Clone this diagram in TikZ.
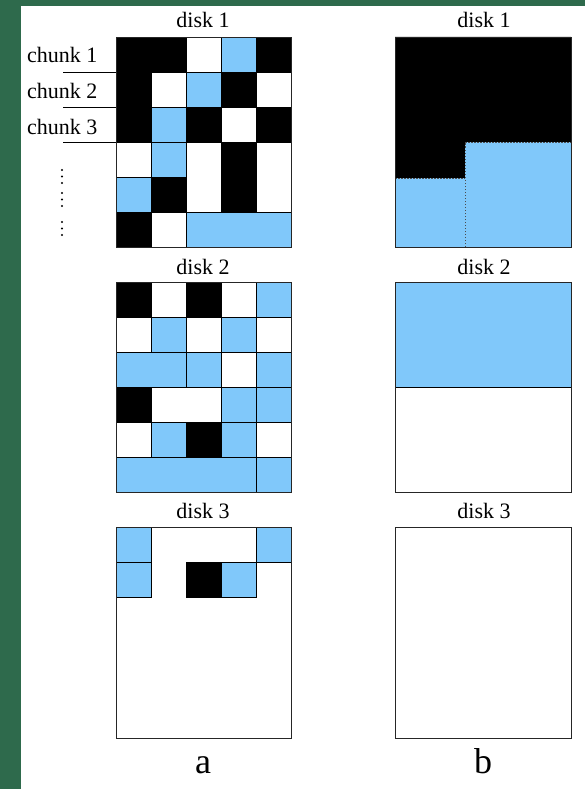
\documentclass[tikz,border=0pt]{standalone}
\usepackage{fontspec}
\setmainfont{Liberation Serif}
\definecolor{cblue}{RGB}{128,200,250}
\definecolor{bggreen}{RGB}{46,106,76}
\tikzset{
  cellline/.style={draw=black, line width=0.8pt},
  boxline/.style={draw=black!85, line width=0.9pt},
  lbl/.style={font=\fontsize{22}{24}\selectfont, inner sep=0pt, anchor=base},
  chunklbl/.style={font=\fontsize{22}{24}\selectfont, inner sep=0pt, anchor=base west},
  biglbl/.style={font=\fontsize{36}{38}\selectfont, inner sep=0pt, anchor=base},
  dotmark/.style={fill=black, draw=none}
}
\newcommand{\gx}{116}
\newcommand{\gyy}{37}
\newcommand{\cb}[5]{\path[cellline, fill=#5] ({\gx+35*(#1-1)},{\gyy+35*(#2-1)}) rectangle ({\gx+35*#3},{\gyy+35*#4});}
\begin{document}
\begin{tikzpicture}[x=1pt,y=-1pt]
\useasboundingbox (0,0) rectangle (585,789);
% background
\fill[bggreen] (0,0) rectangle (585,789);
\fill[white] (21,6) rectangle (585,789);

% ---------- column a, disk 1 ----------
\node[lbl] (a1t) at (203,28) {disk 1};
\renewcommand{\gyy}{37}
\cb{1}{1}{2}{1}{black}
\cb{1}{1}{1}{3}{black}
\cb{3}{1}{3}{1}{white}
\cb{4}{1}{4}{1}{cblue}
\cb{5}{1}{5}{1}{black}
\cb{2}{2}{2}{2}{white}
\cb{3}{2}{3}{2}{cblue}
\cb{4}{2}{4}{2}{black}
\cb{5}{2}{5}{2}{white}
\cb{2}{3}{2}{3}{cblue}
\cb{3}{3}{3}{3}{black}
\cb{4}{3}{4}{3}{white}
\cb{5}{3}{5}{3}{black}
\cb{1}{4}{1}{4}{white}
\cb{2}{4}{2}{4}{cblue}
\cb{3}{4}{3}{5}{white}
\cb{4}{4}{4}{5}{black}
\cb{5}{4}{5}{5}{white}
\cb{1}{5}{1}{5}{cblue}
\cb{2}{5}{2}{5}{black}
\cb{1}{6}{1}{6}{black}
\cb{2}{6}{2}{6}{white}
\cb{3}{6}{5}{6}{cblue}
\draw[boxline] (116,37) rectangle (291,247);

% chunk labels
\node[chunklbl] (c1) at (27,63) {chunk 1};
\node[chunklbl] (c2) at (27,99) {chunk 2};
\node[chunklbl] (c3) at (27,134) {chunk 3};
\coordinate (l1a) at (63,72);  \coordinate (l1b) at (116,72);
\coordinate (l2a) at (63,107); \coordinate (l2b) at (116,107);
\coordinate (l3a) at (63,142); \coordinate (l3b) at (116,142);
\draw[line width=0.8pt] (l1a) -- (l1b);
\draw[line width=0.8pt] (l2a) -- (l2b);
\draw[line width=0.8pt] (l3a) -- (l3b);
% vertical dots
\foreach \yy in {170,176.5,183, 193,199.5,206, 222,228.5,235}
  \fill[dotmark] (62,\yy) circle (1.1);

% ---------- column a, disk 2 ----------
\node[lbl] (a2t) at (203,274) {disk 2};
\renewcommand{\gyy}{282}
\cb{1}{1}{1}{1}{black}
\cb{2}{1}{2}{1}{white}
\cb{3}{1}{3}{1}{black}
\cb{4}{1}{4}{1}{white}
\cb{5}{1}{5}{1}{cblue}
\cb{1}{2}{1}{2}{white}
\cb{2}{2}{2}{2}{cblue}
\cb{3}{2}{3}{2}{white}
\cb{4}{2}{4}{2}{cblue}
\cb{5}{2}{5}{2}{white}
\cb{1}{3}{2}{3}{cblue}
\cb{3}{3}{3}{3}{cblue}
\cb{4}{3}{4}{3}{white}
\cb{5}{3}{5}{3}{cblue}
\cb{1}{4}{1}{4}{black}
\cb{2}{4}{3}{4}{white}
\cb{4}{4}{4}{4}{cblue}
\cb{5}{4}{5}{4}{cblue}
\cb{1}{5}{1}{5}{white}
\cb{2}{5}{2}{5}{cblue}
\cb{3}{5}{3}{5}{black}
\cb{4}{5}{4}{5}{cblue}
\cb{5}{5}{5}{5}{white}
\cb{1}{6}{4}{6}{cblue}
\cb{5}{6}{5}{6}{cblue}
\draw[boxline] (116,282) rectangle (291,492);

% ---------- column a, disk 3 ----------
\node[lbl] (a3t) at (203,518) {disk 3};
\renewcommand{\gyy}{527}
\fill[white] (116,527) rectangle (291,738);
\cb{1}{1}{1}{1}{cblue}
\cb{5}{1}{5}{1}{cblue}
\cb{1}{2}{1}{2}{cblue}
\cb{3}{2}{3}{2}{black}
\cb{4}{2}{4}{2}{cblue}
\draw[boxline] (116,527) rectangle (291,738);
\node[biglbl] (la) at (203,773) {a};

% ---------- column b, disk 1 ----------
\node[lbl] (b1t) at (484,28) {disk 1};
\fill[black] (395,37) -- (571,37) -- (571,142) -- (465,142) -- (465,178) -- (395,178) -- cycle;
\fill[cblue] (395,178) rectangle (465,247);
\fill[cblue] (465,142) rectangle (571,247);
\draw[black!70, line width=0.5pt, dashed, dash pattern=on 1.5pt off 1.5pt] (465,247) -- (465,142) -- (571,142);
\draw[black!70, line width=0.5pt, dashed, dash pattern=on 1.5pt off 1.5pt] (395,178) -- (465,178);
\draw[boxline] (395,37) rectangle (571,247);

% ---------- column b, disk 2 ----------
\node[lbl] (b2t) at (484,274) {disk 2};
\fill[cblue] (395,282) rectangle (571,387);
\draw[line width=0.8pt] (395,387) -- (571,387);
\draw[boxline] (395,282) rectangle (571,492);

% ---------- column b, disk 3 ----------
\node[lbl] (b3t) at (484,518) {disk 3};
\draw[boxline] (395,527) rectangle (571,738);
\node[biglbl] (lb) at (483,773) {b};
\end{tikzpicture}
\end{document}
